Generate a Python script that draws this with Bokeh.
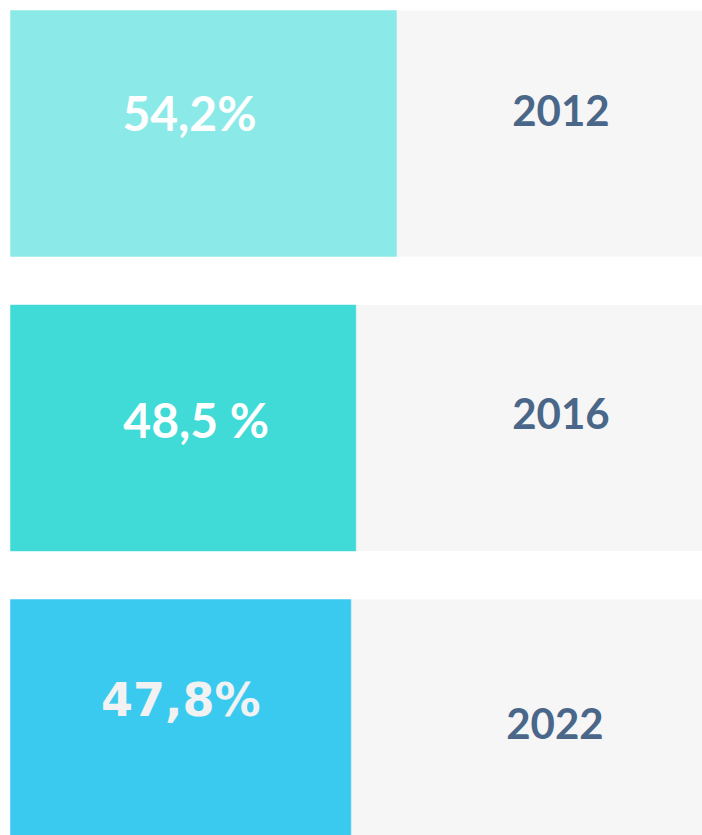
from bokeh.plotting import figure
from bokeh.models import ColumnDataSource, Range1d
from bokeh.embed import file_html
from bokeh.resources import INLINE

# data
years = ["2012", "2016", "2022"]
values = [54.2, 48.5, 47.8]
value_labels = ["54,2%", "48,5 %", "47,8%"]

# styles
bar_colors = ["#8BEAE7", "#40DBD7", "#3ACAF0"]
label_colors = ["#FFFFFF", "#FFFFFF", "#F2F2F2"]
label_fonts = ["Lato", "Lato", "DejaVu Sans"]
label_sizes = ["48px", "48px", "46px"]
label_dy = [-21, -8, -22]
year_dy = [-23, -14, 1]
label_dx = [-14, 13, 0]
year_dx = [0, 0, -6]

pos = list(range(len(years)))
src = ColumnDataSource(dict(
    y=pos, v=values, mid=[v / 2 for v in values], full=[100] * len(values),
    yx=[77.3] * len(values), lab=value_labels, yr=years, col=bar_colors,
    lcol=label_colors, lfont=label_fonts, lsize=label_sizes,
    ldy=label_dy, ldx=label_dx, ydy=year_dy, ydx=year_dx,
))

p = figure(width=702, height=835, output_backend="svg", toolbar_location=None,
           x_range=Range1d(-1.404, 97.18), y_range=Range1d(2.3837, -0.4516),
           min_border=0, outline_line_color=None, background_fill_color="white")
p.axis.visible = False
p.grid.visible = False

p.hbar(y="y", left="v", right="full", height=0.835, source=src,
       fill_color="#F6F6F6", line_color=None)
p.hbar(y="y", left=0, right="v", height=0.835, source=src,
       fill_color="col", line_color="col", line_alpha=0.5)

p.text(x="mid", y="y", text="lab", source=src, text_color="lcol",
       text_font="lfont", text_font_size="lsize", text_font_style="bold",
       text_align="center", text_baseline="middle", y_offset="ldy", x_offset="ldx")
p.text(x="yx", y="y", text="yr", source=src, text_color="#4A6789",
       text_font={"value": "Lato"}, text_font_size="42px", text_font_style="bold",
       text_align="center", text_baseline="middle", y_offset="ydy", x_offset="ydx")

open("out.html", "w").write(file_html(p, INLINE))
